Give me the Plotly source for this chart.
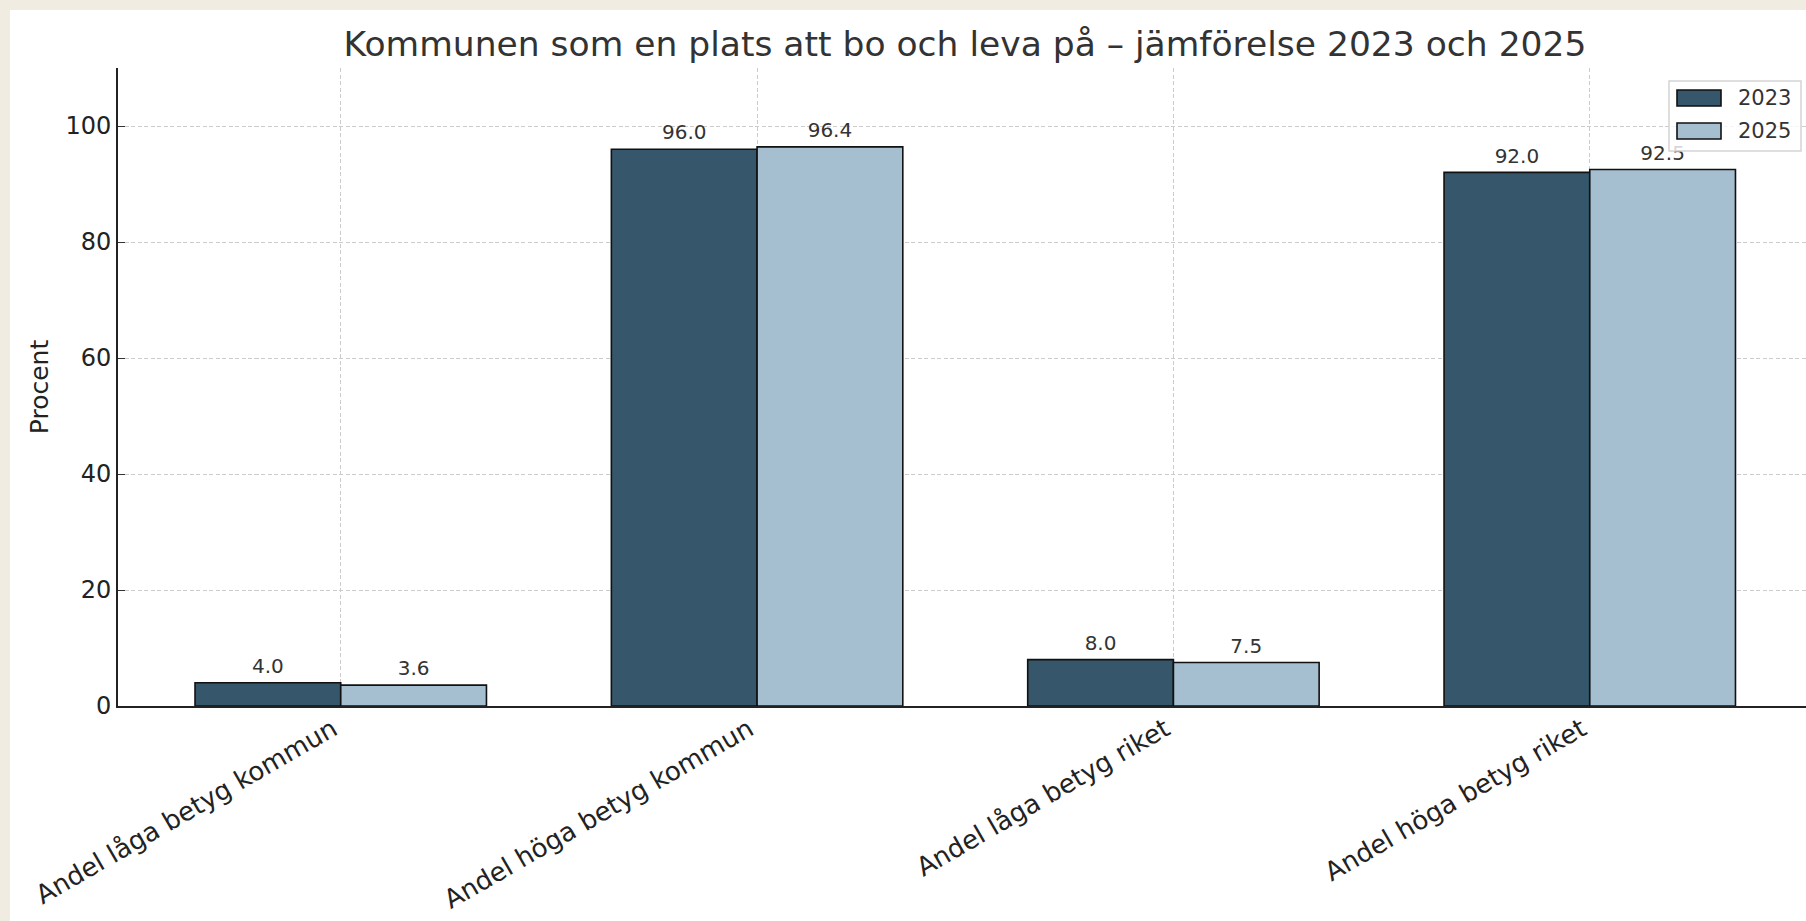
import plotly.graph_objects as go

categories = ["Andel låga betyg kommun", "Andel höga betyg kommun",
              "Andel låga betyg riket", "Andel höga betyg riket"]
years = ["2023", "2025"]
values_2023 = [4.0, 96.0, 8.0, 92.0]
values_2025 = [3.6, 96.4, 7.5, 92.5]
y_ticks = [0, 20, 40, 60, 80, 100]

colors = {"2023": "#35566b", "2025": "#a5bfd0"}
FONT = "DejaVu Sans"

W, H = 1806, 921
L, R, T, B = 118, 0, 68, 215
pw = W - L - R
ph = H - T - B


def px_x(x):
    return (x - L) / pw


def px_y(y):
    return 1 - (y - T) / ph


x_pos = list(range(len(categories)))
bar_w = 0.35

fig = go.Figure()
series = [("2023", values_2023, -bar_w / 2), ("2025", values_2025, bar_w / 2)]
for yr, vals, off in series:
    fig.add_trace(go.Bar(
        x=[p + off for p in x_pos], y=vals, width=bar_w, name=yr, showlegend=False,
        marker=dict(color=colors[yr], line=dict(color="#111111", width=1.6)),
        hoverinfo="skip",
    ))
for yr, vals, off in series:
    fig.add_trace(go.Scatter(
        x=[p + off for p in x_pos], y=vals, mode="markers+text", showlegend=False,
        marker=dict(size=6, opacity=0),
        text=[f"{v:.1f}" for v in vals], textposition="top center",
        textfont=dict(family=FONT, size=20, color="#333333"), cliponaxis=False,
        hoverinfo="skip",
    ))

# white figure area on beige page
fig.add_shape(type="rect", xref="paper", yref="paper", layer="below",
              x0=px_x(10), x1=px_x(W + 20), y0=px_y(H + 20), y1=px_y(10),
              fillcolor="white", line=dict(width=0))

# legend (drawn manually to match swatch sizes)
fig.add_shape(type="rect", xref="paper", yref="paper", layer="above",
              x0=px_x(1669), x1=px_x(1801), y0=px_y(151), y1=px_y(81),
              fillcolor="rgba(255,255,255,0.8)", line=dict(color="#d4d4d4", width=1.5))
for i, yr in enumerate(years):
    top = 90 + i * 33
    fig.add_shape(type="rect", xref="paper", yref="paper", layer="above",
                  x0=px_x(1677), x1=px_x(1721), y0=px_y(top + 16), y1=px_y(top),
                  fillcolor=colors[yr], line=dict(color="#111111", width=1.6))
    fig.add_annotation(xref="paper", yref="paper", x=px_x(1736), y=px_y(top + 8),
                       xanchor="left", yanchor="middle", text=yr, showarrow=False,
                       font=dict(family=FONT, size=21, color="#333333"))

fig.update_layout(
    width=W, height=H,
    margin=dict(l=L, r=R, t=T, b=B, autoexpand=False),
    paper_bgcolor="#f0ece2", plot_bgcolor="rgba(0,0,0,0)",
    font=dict(family=FONT, color="#222222"),
    title=dict(text="Kommunen som en plats att bo och leva på – jämförelse 2023 och 2025",
               x=965 / W, xanchor="center", y=1 - 44 / H, yanchor="middle",
               font=dict(family=FONT, size=34.5, color="#333333")),
    barmode="overlay",
    showlegend=False,
    xaxis=dict(range=[-0.535, 3.535 - (1812.5 - W) / 416.6], tickmode="array",
               tickvals=x_pos, ticktext=categories, tickangle=-30,
               tickfont=dict(family=FONT, size=26, color="#222222"),
               ticklabelshift=-8, ticklabelstandoff=-4,
               showgrid=True, gridcolor="#cccccc", griddash="4px,2.5px", gridwidth=1,
               showline=True, linecolor="#222222", linewidth=2,
               ticks="", zeroline=False),
    yaxis=dict(range=[0, 110], tickmode="array", tickvals=y_ticks,
               tickfont=dict(family=FONT, size=24, color="#222222"),
               title=dict(text="Procent", standoff=10, font=dict(family=FONT, size=25, color="#222222")),
               showgrid=True, gridcolor="#cccccc", griddash="4px,2.5px", gridwidth=1,
               showline=True, linecolor="#222222", linewidth=2,
               ticks="inside", ticklen=7, tickcolor="#333333", zeroline=False),
)

fig.write_html("out.html",
               config={"displayModeBar": False},
               post_script="document.body.style.margin='0px';"
                           "document.body.style.background='#f0ece2';"
                           "document.body.style.overflow='hidden';")
